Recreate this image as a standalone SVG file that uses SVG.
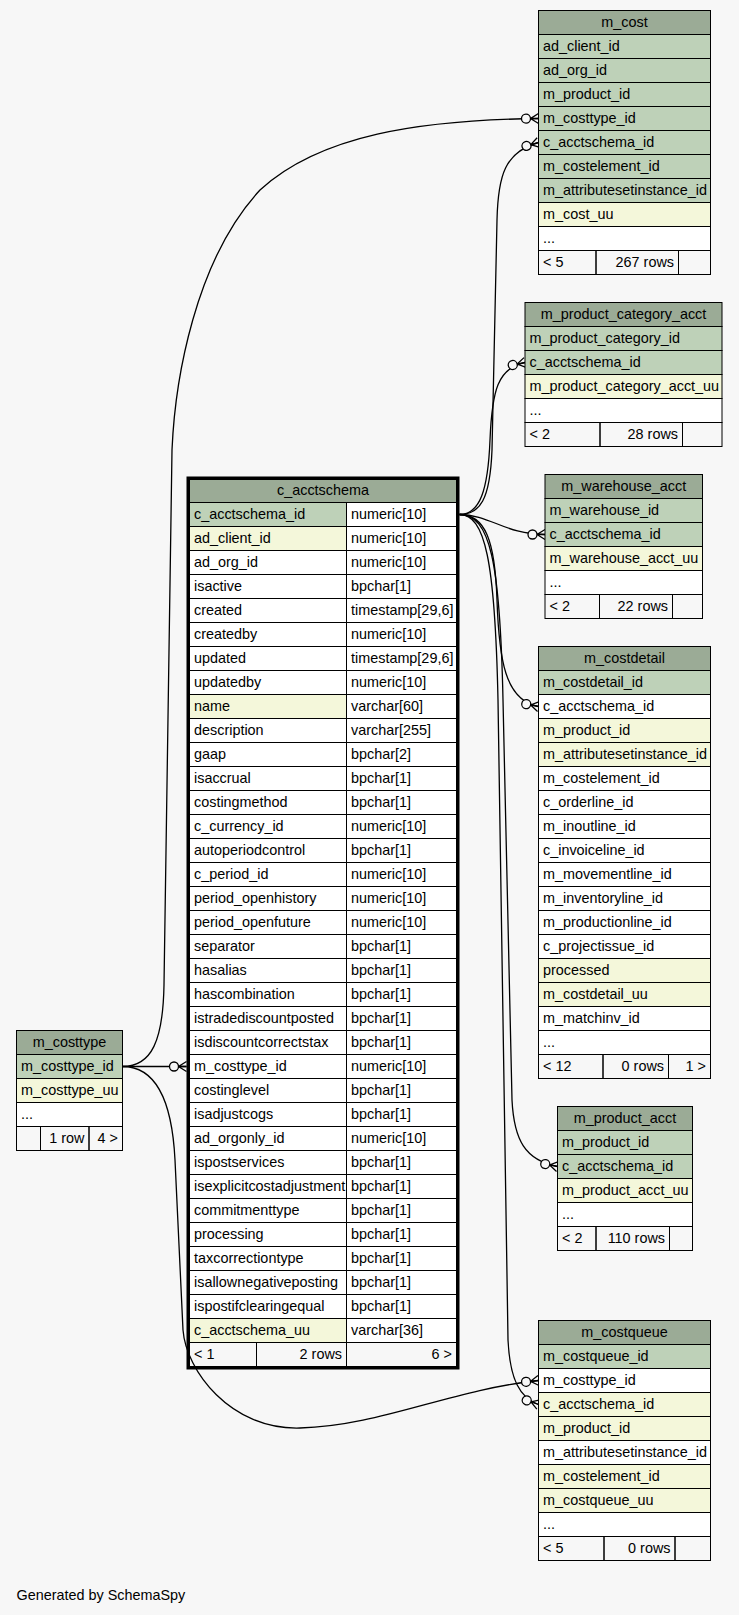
<svg xmlns="http://www.w3.org/2000/svg" width="739" height="1615" viewBox="0 0 739 1615">
<style>
text{font-family:"Liberation Sans",Arial,Helvetica,sans-serif;font-size:14.4px;fill:#000}
.h{fill:#9bab96;stroke:#000;stroke-width:1}
.k{fill:#bed1b8;stroke:#000;stroke-width:1}
.i{fill:#f4f7da;stroke:#000;stroke-width:1}
.w{fill:#fff;stroke:#000;stroke-width:1}
.f{fill:none;stroke:#000;stroke-width:1}
.c{text-anchor:middle}
.r{text-anchor:end}
.e{fill:none;stroke:#000;stroke-width:1.3}
</style>
<defs>
<marker id="cr" markerUnits="userSpaceOnUse" markerWidth="40" markerHeight="20" viewBox="-20 -10 40 20" refX="0" refY="0" orient="auto" overflow="visible">
<path d="M0,-5 L-8,0 L0,5 M-8,0 L0,0" fill="none" stroke="#000" stroke-width="1.3"/>
<circle cx="-12.5" cy="0" r="4.5" fill="#f7f7f7" stroke="#000" stroke-width="1.3"/>
</marker>
</defs>
<rect x="0" y="0" width="739" height="1615" fill="#f7f7f7"/>

<g id="connectors">
<path class="e" marker-end="url(#cr)" d="M122.5,1066.5 C152,1066.5 163,1040 164,985 L172,450 C175,380 195,260 260,190 C320,135 420,120 538.5,118.5"/>
<path class="e" marker-end="url(#cr)" d="M122.5,1066.5 L186.5,1066.5"/>
<path class="e" marker-end="url(#cr)" d="M122.5,1066.5 C155,1066.5 172,1100 175,1160 L183,1330 C186,1370 230,1430 300,1428 C380,1426 450,1390 538.5,1380.5"/>
<path class="e" marker-end="url(#cr)" d="M459.5,514.5 C480,514.5 490,500 492,450 L497,220 C498,175 505,152 538.5,142.5"/>
<path class="e" marker-end="url(#cr)" d="M459.5,514.5 C480,514.5 488,490 490,440 C492,390 498,368 525,362.5"/>
<path class="e" marker-end="url(#cr)" d="M459.5,514.5 C490,514.5 505,534.5 545,534.5"/>
<path class="e" marker-end="url(#cr)" d="M459.5,514.5 C485,514.5 495,540 497,600 C499,660 505,700 538.5,706.5"/>
<path class="e" marker-end="url(#cr)" d="M459.5,514.5 C490,514.5 500,560 503,700 L512,1100 C514,1140 525,1160 557.5,1166.5"/>
<path class="e" marker-end="url(#cr)" d="M459.5,514.5 C485,514.5 495,560 498,700 L508,1340 C510,1380 520,1398 538.5,1404.5"/>
</g>

<g id="m_cost">
<rect class="h" x="538.5" y="10.5" width="172" height="24"/><text class="c" x="624.5" y="26.5">m_cost</text>
<rect class="k" x="538.5" y="34.5" width="172" height="24"/><text x="543" y="50.5">ad_client_id</text>
<rect class="k" x="538.5" y="58.5" width="172" height="24"/><text x="543" y="74.5">ad_org_id</text>
<rect class="k" x="538.5" y="82.5" width="172" height="24"/><text x="543" y="98.5">m_product_id</text>
<rect class="k" x="538.5" y="106.5" width="172" height="24"/><text x="543" y="122.5">m_costtype_id</text>
<rect class="k" x="538.5" y="130.5" width="172" height="24"/><text x="543" y="146.5">c_acctschema_id</text>
<rect class="k" x="538.5" y="154.5" width="172" height="24"/><text x="543" y="170.5">m_costelement_id</text>
<rect class="k" x="538.5" y="178.5" width="172" height="24"/><text x="543" y="194.5">m_attributesetinstance_id</text>
<rect class="i" x="538.5" y="202.5" width="172" height="24"/><text x="543" y="218.5">m_cost_uu</text>
<rect class="w" x="538.5" y="226.5" width="172" height="24"/><text x="543" y="242.5">...</text>
<rect class="f" x="538.5" y="250.5" width="57.5" height="24"/><text x="543" y="266.5">&lt; 5</text>
<rect class="f" x="596" y="250.5" width="82.5" height="24"/><text class="r" x="674" y="266.5">267 rows</text>
<rect class="f" x="678.5" y="250.5" width="32" height="24"/>
</g>

<g id="m_product_category_acct">
<rect class="h" x="525" y="302.5" width="197" height="24"/><text class="c" x="623.5" y="318.5">m_product_category_acct</text>
<rect class="k" x="525" y="326.5" width="197" height="24"/><text x="529.5" y="342.5">m_product_category_id</text>
<rect class="k" x="525" y="350.5" width="197" height="24"/><text x="529.5" y="366.5">c_acctschema_id</text>
<rect class="i" x="525" y="374.5" width="197" height="24"/><text x="529.5" y="390.5">m_product_category_acct_uu</text>
<rect class="w" x="525" y="398.5" width="197" height="24"/><text x="529.5" y="414.5">...</text>
<rect class="f" x="525" y="422.5" width="75" height="24"/><text x="529.5" y="438.5">&lt; 2</text>
<rect class="f" x="600" y="422.5" width="82.5" height="24"/><text class="r" x="678" y="438.5">28 rows</text>
<rect class="f" x="682.5" y="422.5" width="39.5" height="24"/>
</g>

<g id="m_warehouse_acct">
<rect class="h" x="545" y="474.5" width="157.5" height="24"/><text class="c" x="623.75" y="490.5">m_warehouse_acct</text>
<rect class="k" x="545" y="498.5" width="157.5" height="24"/><text x="549.5" y="514.5">m_warehouse_id</text>
<rect class="k" x="545" y="522.5" width="157.5" height="24"/><text x="549.5" y="538.5">c_acctschema_id</text>
<rect class="i" x="545" y="546.5" width="157.5" height="24"/><text x="549.5" y="562.5">m_warehouse_acct_uu</text>
<rect class="w" x="545" y="570.5" width="157.5" height="24"/><text x="549.5" y="586.5">...</text>
<rect class="f" x="545" y="594.5" width="54.5" height="24"/><text x="549.5" y="610.5">&lt; 2</text>
<rect class="f" x="599.5" y="594.5" width="73" height="24"/><text class="r" x="668" y="610.5">22 rows</text>
<rect class="f" x="672.5" y="594.5" width="30" height="24"/>
</g>

<g id="m_costdetail">
<rect class="h" x="538.5" y="646.5" width="172" height="24"/><text class="c" x="624.5" y="662.5">m_costdetail</text>
<rect class="k" x="538.5" y="670.5" width="172" height="24"/><text x="543" y="686.5">m_costdetail_id</text>
<rect class="w" x="538.5" y="694.5" width="172" height="24"/><text x="543" y="710.5">c_acctschema_id</text>
<rect class="i" x="538.5" y="718.5" width="172" height="24"/><text x="543" y="734.5">m_product_id</text>
<rect class="i" x="538.5" y="742.5" width="172" height="24"/><text x="543" y="758.5">m_attributesetinstance_id</text>
<rect class="w" x="538.5" y="766.5" width="172" height="24"/><text x="543" y="782.5">m_costelement_id</text>
<rect class="w" x="538.5" y="790.5" width="172" height="24"/><text x="543" y="806.5">c_orderline_id</text>
<rect class="w" x="538.5" y="814.5" width="172" height="24"/><text x="543" y="830.5">m_inoutline_id</text>
<rect class="w" x="538.5" y="838.5" width="172" height="24"/><text x="543" y="854.5">c_invoiceline_id</text>
<rect class="w" x="538.5" y="862.5" width="172" height="24"/><text x="543" y="878.5">m_movementline_id</text>
<rect class="w" x="538.5" y="886.5" width="172" height="24"/><text x="543" y="902.5">m_inventoryline_id</text>
<rect class="w" x="538.5" y="910.5" width="172" height="24"/><text x="543" y="926.5">m_productionline_id</text>
<rect class="w" x="538.5" y="934.5" width="172" height="24"/><text x="543" y="950.5">c_projectissue_id</text>
<rect class="i" x="538.5" y="958.5" width="172" height="24"/><text x="543" y="974.5">processed</text>
<rect class="i" x="538.5" y="982.5" width="172" height="24"/><text x="543" y="998.5">m_costdetail_uu</text>
<rect class="w" x="538.5" y="1006.5" width="172" height="24"/><text x="543" y="1022.5">m_matchinv_id</text>
<rect class="w" x="538.5" y="1030.5" width="172" height="24"/><text x="543" y="1046.5">...</text>
<rect class="f" x="538.5" y="1054.5" width="64.5" height="24"/><text x="543" y="1070.5">&lt; 12</text>
<rect class="f" x="603" y="1054.5" width="65.5" height="24"/><text class="r" x="664" y="1070.5">0 rows</text>
<rect class="f" x="668.5" y="1054.5" width="42" height="24"/><text class="r" x="706" y="1070.5">1 &gt;</text>
</g>

<g id="m_product_acct">
<rect class="h" x="557.5" y="1106.5" width="135" height="24"/><text class="c" x="625" y="1122.5">m_product_acct</text>
<rect class="k" x="557.5" y="1130.5" width="135" height="24"/><text x="562" y="1146.5">m_product_id</text>
<rect class="k" x="557.5" y="1154.5" width="135" height="24"/><text x="562" y="1170.5">c_acctschema_id</text>
<rect class="i" x="557.5" y="1178.5" width="135" height="24"/><text x="562" y="1194.5">m_product_acct_uu</text>
<rect class="w" x="557.5" y="1202.5" width="135" height="24"/><text x="562" y="1218.5">...</text>
<rect class="f" x="557.5" y="1226.5" width="38.5" height="24"/><text x="562" y="1242.5">&lt; 2</text>
<rect class="f" x="596" y="1226.5" width="73.5" height="24"/><text class="r" x="665" y="1242.5">110 rows</text>
<rect class="f" x="669.5" y="1226.5" width="23" height="24"/>
</g>

<g id="m_costqueue">
<rect class="h" x="538.5" y="1320.5" width="172" height="24"/><text class="c" x="624.5" y="1336.5">m_costqueue</text>
<rect class="k" x="538.5" y="1344.5" width="172" height="24"/><text x="543" y="1360.5">m_costqueue_id</text>
<rect class="w" x="538.5" y="1368.5" width="172" height="24"/><text x="543" y="1384.5">m_costtype_id</text>
<rect class="i" x="538.5" y="1392.5" width="172" height="24"/><text x="543" y="1408.5">c_acctschema_id</text>
<rect class="i" x="538.5" y="1416.5" width="172" height="24"/><text x="543" y="1432.5">m_product_id</text>
<rect class="w" x="538.5" y="1440.5" width="172" height="24"/><text x="543" y="1456.5">m_attributesetinstance_id</text>
<rect class="i" x="538.5" y="1464.5" width="172" height="24"/><text x="543" y="1480.5">m_costelement_id</text>
<rect class="i" x="538.5" y="1488.5" width="172" height="24"/><text x="543" y="1504.5">m_costqueue_uu</text>
<rect class="w" x="538.5" y="1512.5" width="172" height="24"/><text x="543" y="1528.5">...</text>
<rect class="f" x="538.5" y="1536.5" width="65.5" height="24"/><text x="543" y="1552.5">&lt; 5</text>
<rect class="f" x="604" y="1536.5" width="71" height="24"/><text class="r" x="670.5" y="1552.5">0 rows</text>
<rect class="f" x="675" y="1536.5" width="35.5" height="24"/>
</g>

<g id="m_costtype">
<rect class="h" x="16.5" y="1030.5" width="106" height="24"/><text class="c" x="69.5" y="1046.5">m_costtype</text>
<rect class="k" x="16.5" y="1054.5" width="106" height="24"/><text x="21" y="1070.5">m_costtype_id</text>
<rect class="i" x="16.5" y="1078.5" width="106" height="24"/><text x="21" y="1094.5">m_costtype_uu</text>
<rect class="w" x="16.5" y="1102.5" width="106" height="24"/><text x="21" y="1118.5">...</text>
<rect class="f" x="16.5" y="1126.5" width="24" height="24"/>
<rect class="f" x="40.5" y="1126.5" width="48.5" height="24"/><text class="r" x="84.5" y="1142.5">1 row</text>
<rect class="f" x="89" y="1126.5" width="33.5" height="24"/><text class="r" x="118" y="1142.5">4 &gt;</text>
</g>

<g id="c_acctschema">
<rect class="h" x="189.5" y="479.5" width="267" height="23"/><text class="c" x="323" y="495">c_acctschema</text>
<rect class="k" x="189.5" y="502.5" width="157" height="24"/><rect class="w" x="346.5" y="502.5" width="110" height="24"/><text x="194" y="518.5">c_acctschema_id</text><text x="351" y="518.5">numeric[10]</text>
<rect class="i" x="189.5" y="526.5" width="157" height="24"/><rect class="w" x="346.5" y="526.5" width="110" height="24"/><text x="194" y="542.5">ad_client_id</text><text x="351" y="542.5">numeric[10]</text>
<rect class="w" x="189.5" y="550.5" width="157" height="24"/><rect class="w" x="346.5" y="550.5" width="110" height="24"/><text x="194" y="566.5">ad_org_id</text><text x="351" y="566.5">numeric[10]</text>
<rect class="w" x="189.5" y="574.5" width="157" height="24"/><rect class="w" x="346.5" y="574.5" width="110" height="24"/><text x="194" y="590.5">isactive</text><text x="351" y="590.5">bpchar[1]</text>
<rect class="w" x="189.5" y="598.5" width="157" height="24"/><rect class="w" x="346.5" y="598.5" width="110" height="24"/><text x="194" y="614.5">created</text><text x="351" y="614.5">timestamp[29,6]</text>
<rect class="w" x="189.5" y="622.5" width="157" height="24"/><rect class="w" x="346.5" y="622.5" width="110" height="24"/><text x="194" y="638.5">createdby</text><text x="351" y="638.5">numeric[10]</text>
<rect class="w" x="189.5" y="646.5" width="157" height="24"/><rect class="w" x="346.5" y="646.5" width="110" height="24"/><text x="194" y="662.5">updated</text><text x="351" y="662.5">timestamp[29,6]</text>
<rect class="w" x="189.5" y="670.5" width="157" height="24"/><rect class="w" x="346.5" y="670.5" width="110" height="24"/><text x="194" y="686.5">updatedby</text><text x="351" y="686.5">numeric[10]</text>
<rect class="i" x="189.5" y="694.5" width="157" height="24"/><rect class="w" x="346.5" y="694.5" width="110" height="24"/><text x="194" y="710.5">name</text><text x="351" y="710.5">varchar[60]</text>
<rect class="w" x="189.5" y="718.5" width="157" height="24"/><rect class="w" x="346.5" y="718.5" width="110" height="24"/><text x="194" y="734.5">description</text><text x="351" y="734.5">varchar[255]</text>
<rect class="w" x="189.5" y="742.5" width="157" height="24"/><rect class="w" x="346.5" y="742.5" width="110" height="24"/><text x="194" y="758.5">gaap</text><text x="351" y="758.5">bpchar[2]</text>
<rect class="w" x="189.5" y="766.5" width="157" height="24"/><rect class="w" x="346.5" y="766.5" width="110" height="24"/><text x="194" y="782.5">isaccrual</text><text x="351" y="782.5">bpchar[1]</text>
<rect class="w" x="189.5" y="790.5" width="157" height="24"/><rect class="w" x="346.5" y="790.5" width="110" height="24"/><text x="194" y="806.5">costingmethod</text><text x="351" y="806.5">bpchar[1]</text>
<rect class="w" x="189.5" y="814.5" width="157" height="24"/><rect class="w" x="346.5" y="814.5" width="110" height="24"/><text x="194" y="830.5">c_currency_id</text><text x="351" y="830.5">numeric[10]</text>
<rect class="w" x="189.5" y="838.5" width="157" height="24"/><rect class="w" x="346.5" y="838.5" width="110" height="24"/><text x="194" y="854.5">autoperiodcontrol</text><text x="351" y="854.5">bpchar[1]</text>
<rect class="w" x="189.5" y="862.5" width="157" height="24"/><rect class="w" x="346.5" y="862.5" width="110" height="24"/><text x="194" y="878.5">c_period_id</text><text x="351" y="878.5">numeric[10]</text>
<rect class="w" x="189.5" y="886.5" width="157" height="24"/><rect class="w" x="346.5" y="886.5" width="110" height="24"/><text x="194" y="902.5">period_openhistory</text><text x="351" y="902.5">numeric[10]</text>
<rect class="w" x="189.5" y="910.5" width="157" height="24"/><rect class="w" x="346.5" y="910.5" width="110" height="24"/><text x="194" y="926.5">period_openfuture</text><text x="351" y="926.5">numeric[10]</text>
<rect class="w" x="189.5" y="934.5" width="157" height="24"/><rect class="w" x="346.5" y="934.5" width="110" height="24"/><text x="194" y="950.5">separator</text><text x="351" y="950.5">bpchar[1]</text>
<rect class="w" x="189.5" y="958.5" width="157" height="24"/><rect class="w" x="346.5" y="958.5" width="110" height="24"/><text x="194" y="974.5">hasalias</text><text x="351" y="974.5">bpchar[1]</text>
<rect class="w" x="189.5" y="982.5" width="157" height="24"/><rect class="w" x="346.5" y="982.5" width="110" height="24"/><text x="194" y="998.5">hascombination</text><text x="351" y="998.5">bpchar[1]</text>
<rect class="w" x="189.5" y="1006.5" width="157" height="24"/><rect class="w" x="346.5" y="1006.5" width="110" height="24"/><text x="194" y="1022.5">istradediscountposted</text><text x="351" y="1022.5">bpchar[1]</text>
<rect class="w" x="189.5" y="1030.5" width="157" height="24"/><rect class="w" x="346.5" y="1030.5" width="110" height="24"/><text x="194" y="1046.5">isdiscountcorrectstax</text><text x="351" y="1046.5">bpchar[1]</text>
<rect class="w" x="189.5" y="1054.5" width="157" height="24"/><rect class="w" x="346.5" y="1054.5" width="110" height="24"/><text x="194" y="1070.5">m_costtype_id</text><text x="351" y="1070.5">numeric[10]</text>
<rect class="w" x="189.5" y="1078.5" width="157" height="24"/><rect class="w" x="346.5" y="1078.5" width="110" height="24"/><text x="194" y="1094.5">costinglevel</text><text x="351" y="1094.5">bpchar[1]</text>
<rect class="w" x="189.5" y="1102.5" width="157" height="24"/><rect class="w" x="346.5" y="1102.5" width="110" height="24"/><text x="194" y="1118.5">isadjustcogs</text><text x="351" y="1118.5">bpchar[1]</text>
<rect class="w" x="189.5" y="1126.5" width="157" height="24"/><rect class="w" x="346.5" y="1126.5" width="110" height="24"/><text x="194" y="1142.5">ad_orgonly_id</text><text x="351" y="1142.5">numeric[10]</text>
<rect class="w" x="189.5" y="1150.5" width="157" height="24"/><rect class="w" x="346.5" y="1150.5" width="110" height="24"/><text x="194" y="1166.5">ispostservices</text><text x="351" y="1166.5">bpchar[1]</text>
<rect class="w" x="189.5" y="1174.5" width="157" height="24"/><rect class="w" x="346.5" y="1174.5" width="110" height="24"/><text x="194" y="1190.5">isexplicitcostadjustment</text><text x="351" y="1190.5">bpchar[1]</text>
<rect class="w" x="189.5" y="1198.5" width="157" height="24"/><rect class="w" x="346.5" y="1198.5" width="110" height="24"/><text x="194" y="1214.5">commitmenttype</text><text x="351" y="1214.5">bpchar[1]</text>
<rect class="w" x="189.5" y="1222.5" width="157" height="24"/><rect class="w" x="346.5" y="1222.5" width="110" height="24"/><text x="194" y="1238.5">processing</text><text x="351" y="1238.5">bpchar[1]</text>
<rect class="w" x="189.5" y="1246.5" width="157" height="24"/><rect class="w" x="346.5" y="1246.5" width="110" height="24"/><text x="194" y="1262.5">taxcorrectiontype</text><text x="351" y="1262.5">bpchar[1]</text>
<rect class="w" x="189.5" y="1270.5" width="157" height="24"/><rect class="w" x="346.5" y="1270.5" width="110" height="24"/><text x="194" y="1286.5">isallownegativeposting</text><text x="351" y="1286.5">bpchar[1]</text>
<rect class="w" x="189.5" y="1294.5" width="157" height="24"/><rect class="w" x="346.5" y="1294.5" width="110" height="24"/><text x="194" y="1310.5">ispostifclearingequal</text><text x="351" y="1310.5">bpchar[1]</text>
<rect class="i" x="189.5" y="1318.5" width="157" height="24"/><rect class="w" x="346.5" y="1318.5" width="110" height="24"/><text x="194" y="1334.5">c_acctschema_uu</text><text x="351" y="1334.5">varchar[36]</text>
<rect class="f" x="189.5" y="1342.5" width="67" height="24"/><text x="194" y="1358.5">&lt; 1</text>
<rect class="f" x="256.5" y="1342.5" width="90" height="24"/><text class="r" x="342" y="1358.5">2 rows</text>
<rect class="f" x="346.5" y="1342.5" width="110" height="24"/><text class="r" x="452" y="1358.5">6 &gt;</text>
<rect x="188" y="478" width="270" height="890" fill="none" stroke="#000" stroke-width="3"/>
</g>

<text x="16.5" y="1600">Generated by SchemaSpy</text>
</svg>
